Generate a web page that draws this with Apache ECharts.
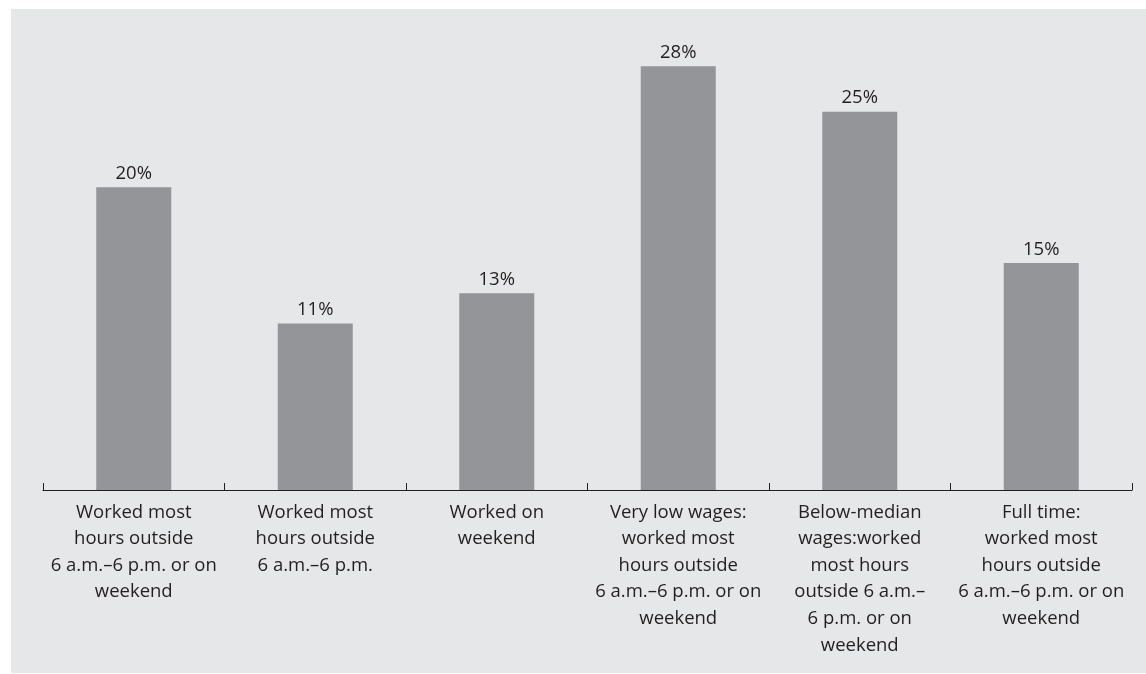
<!DOCTYPE html>
<html><head><meta charset="utf-8">
<script src="https://cdn.jsdelivr.net/npm/echarts@6/dist/echarts.min.js"></script>
<style>html,body{margin:0;padding:0;background:#fff}#c{width:1146px;height:674px}</style>
</head><body><div id="c"></div>
<script>
const categories = [
  "Worked most\nhours outside\n6 a.m.–6 p.m. or on\nweekend",
  "Worked most\nhours outside\n6 a.m.–6 p.m.",
  "Worked on\nweekend",
  "Very low wages:\nworked most\nhours outside\n6 a.m.–6 p.m. or on\nweekend",
  "Below-median\nwages:worked\nmost hours\noutside 6 a.m.–\n6 p.m. or on\nweekend",
  "Full time:\nworked most\nhours outside\n6 a.m.–6 p.m. or on\nweekend"
];
const values = [20, 11, 13, 28, 25, 15];

const chart = echarts.init(document.getElementById('c'));
const font = '"Open Sans", sans-serif';
chart.setOption({
  animation: false,
  graphic: [{type:'rect', z:-10, shape:{x:11,y:9,width:1135,height:664}, style:{fill:'#e6e7e8'}}],
  grid: {left:43, right:14, top:36, bottom:184, containLabel:false},
  xAxis: {
    type:'category', data:categories,
    axisLine:{lineStyle:{color:'#231f20', width:1.2}},
    axisTick:{show:true, inside:true, length:7, lineStyle:{color:'#231f20'}},
    axisLabel:{color:'#231f20', fontSize:18.5, fontFamily:font, lineHeight:26.6, margin:9, interval:0}
  },
  yAxis: {type:'value', min:0, max:30, show:false, splitLine:{show:false}},
  series: [{
    type:'bar', data:values, barWidth:75,
    itemStyle:{color:'#939598'},
    label:{show:true, position:'top', formatter:'{c}%', color:'#231f20', fontSize:18.5, fontFamily:font, distance:4}
  }]
});
</script></body></html>
